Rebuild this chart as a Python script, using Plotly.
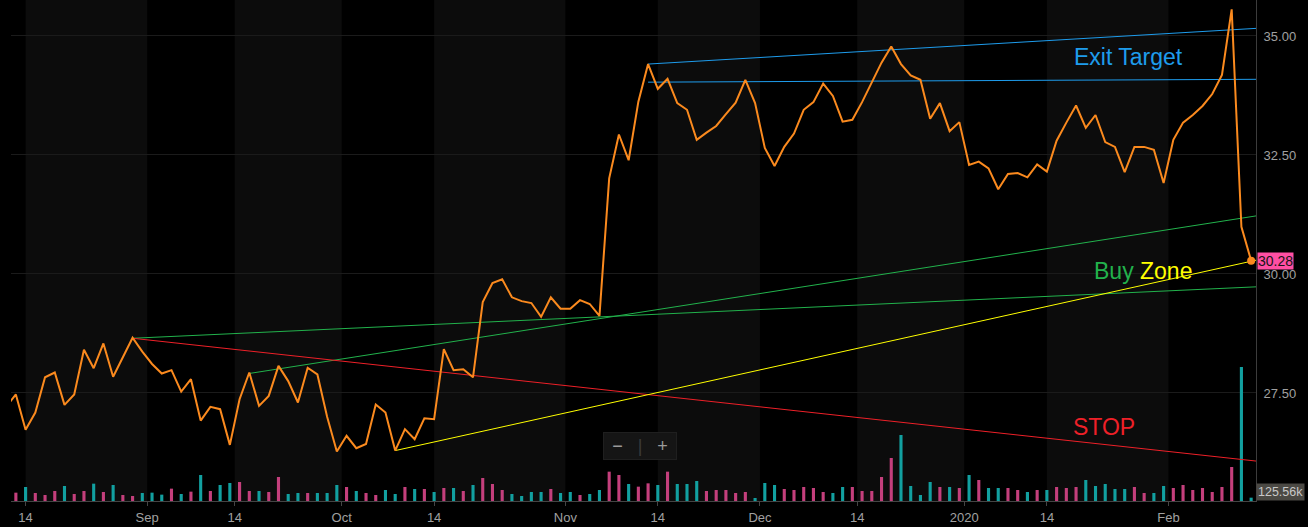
import numpy as np
import pandas as pd
import plotly.graph_objects as go

# trading days shown (Aug 12 2019 is clipped at the left edge)
holidays = ['2019-09-02', '2019-11-28', '2019-12-25', '2020-01-01', '2020-01-20']
days = pd.bdate_range('2019-08-12', '2020-02-13', freq='C', holidays=holidays)

close = [
    27.21,
    27.47, 26.73, 27.09, 27.83, 27.93, 27.25, 27.47, 28.41, 28.02, 28.54,
    27.84, 28.25, 28.66, 28.37, 28.11, 27.91, 27.98, 27.53, 27.79, 26.92,
    27.21, 27.16, 26.41, 27.37, 27.93, 27.23, 27.44, 28.07, 27.75, 27.30,
    28.03, 27.89, 27.00, 26.27, 26.60, 26.34, 26.43, 27.26, 27.09, 26.29,
    26.74, 26.53, 26.97, 26.95, 28.42, 27.98, 28.00, 27.83, 29.41, 29.81,
    29.89, 29.51, 29.43, 29.39, 29.10, 29.51, 29.27, 29.27, 29.45, 29.37,
    29.12, 32.01, 32.93, 32.39, 33.62, 34.41, 33.89, 34.10, 33.59, 33.45,
    32.82, 32.97, 33.11, 33.36, 33.60, 34.08, 33.59, 32.65, 32.27, 32.67,
    32.95, 33.45, 33.61, 34.00, 33.74, 33.20, 33.24, 33.61, 34.02, 34.44,
    34.78, 34.41, 34.17, 34.08, 33.26, 33.59, 33.00, 33.19, 32.29, 32.36,
    32.22, 31.78, 32.10, 32.12, 32.03, 32.30, 32.15, 32.80, 33.18, 33.54,
    33.07, 33.34, 32.77, 32.67, 32.14, 32.67, 32.67, 32.61, 31.91, 32.82,
    33.18, 33.34, 33.53, 33.78, 34.18, 35.56, 30.99, 30.28,
]

# volume in thousands of shares
vol_k = [
    340,
    314, 527, 301, 226, 377, 565, 264, 377, 653, 339,
    603, 226, 188, 301, 314, 239, 465, 264, 352, 979,
    377, 603, 678, 716, 377, 377, 339, 904, 264, 301,
    301, 301, 301, 603, 527, 377, 301, 226, 414, 264,
    527, 452, 452, 339, 490, 490, 377, 603, 866, 640,
    414, 264, 188, 339, 339, 452, 301, 339, 226, 264,
    414, 1105, 979, 640, 540, 665, 603, 1105, 640, 640,
    753, 377, 414, 414, 301, 339, 113, 678, 603, 452,
    414, 527, 490, 339, 301, 527, 527, 377, 377, 904,
    1620, 2486, 565, 226, 716, 527, 527, 490, 979, 791,
    490, 490, 490, 414, 339, 414, 414, 527, 490, 527,
    791, 565, 640, 452, 452, 527, 301, 301, 565, 490,
    603, 414, 490, 339, 527, 1281, 5048, 125.56,
]
# t = teal bar, p = pink bar
vol_side = list('t' + 'ptppptpptp' 'tpptttptpt' 'pttpptpptt' 'ptttptpptt'
                'ptptptptpp' 'pttttpttpt' 'tpptpptptt' 'tppppptttp'
                'ppppttpppp' 'pttttptptp' 'ttpptptppp' 'tttttppttp' 'pppppptt')

tick_dates = ['2019-08-14', '2019-09-01', '2019-09-14', '2019-10-01', '2019-10-14', '2019-11-01',
              '2019-11-14', '2019-12-01', '2019-12-14', '2020-01-01', '2020-01-14', '2020-02-01']
tick_labels = ['14', 'Sep', '14', 'Oct', '14', 'Nov', '14', 'Dec', '14', '2020', '14', 'Feb']

# drawn trend lines: start day, price there, price at the right edge
trend_names = ['exit_hi', 'exit_lo', 'buy_hi', 'buy_lo', 'stop', 'zone']
trend_from = ['2019-11-13', '2019-11-13', '2019-09-17', '2019-08-29', '2019-08-29', '2019-10-08']
trend_p0 = [34.41, 34.03, 27.91, 28.65, 28.65, 26.29]
trend_p1 = [35.16, 34.09, 31.22, 29.73, 26.07, 30.29]

BLUE, GREEN, RED, YELLOW = '#1e9cec', '#22b24c', '#ee2028', '#ffff00'
ORANGE = '#fb8a1e'
trend_color = {'exit_hi': BLUE, 'exit_lo': BLUE, 'buy_hi': GREEN, 'buy_lo': GREEN,
               'stop': RED, 'zone': YELLOW}
vol_color = {'t': '#12a0a0', 'p': '#c43f7c'}

x = np.arange(len(days))
right_edge = len(days) - 0.5

tickpos = []
for d, lab in zip(tick_dates, tick_labels):
    d = pd.Timestamp(d)
    i = int(days.searchsorted(d))
    on_bar = lab == '14' and i < len(days) and days[i] == d
    tickpos.append(i if on_bar else i - 0.5)

fig = go.Figure()

fig.add_trace(go.Bar(x=x, y=vol_k, marker_color=[vol_color[s] for s in vol_side],
                     marker_line_width=0, width=0.32, yaxis='y',
                     customdata=days.strftime('%b %d, %Y'),
                     hovertemplate='%{customdata}<br>Vol %{y}k<extra></extra>'))

for name, d0, p0, p1 in zip(trend_names, trend_from, trend_p0, trend_p1):
    i0 = int(days.searchsorted(pd.Timestamp(d0)))
    fig.add_trace(go.Scatter(x=[i0, right_edge], y=[p0, p1], mode='lines', yaxis='y2',
                             line=dict(color=trend_color[name], width=1), hoverinfo='skip'))

fig.add_trace(go.Scatter(x=x, y=close, mode='lines', yaxis='y2',
                         line=dict(color=ORANGE, width=2),
                         customdata=days.strftime('%b %d, %Y'),
                         hovertemplate='%{customdata}<br>%{y:.2f}<extra></extra>'))
fig.add_trace(go.Scatter(x=[x[-1]], y=[close[-1]], mode='markers', yaxis='y2',
                         marker=dict(color=ORANGE, size=8), hoverinfo='skip'))

# alternating shaded periods between date ticks
shapes = []
for k in range(0, len(tickpos) - 1, 2):
    shapes.append(dict(type='rect', xref='x', yref='paper', x0=tickpos[k], x1=tickpos[k + 1],
                       y0=0, y1=1, fillcolor='#0c0c0c', line_width=0, layer='below'))

annotations = [
    dict(x=115.4, y=34.56, xref='x', yref='y2', text='Exit Target', showarrow=False,
         font=dict(color=BLUE, size=23)),
    dict(x=116.9, y=30.06, xref='x', yref='y2', showarrow=False,
         text='Buy <span style="color:%s">Zone</span>' % YELLOW, font=dict(color=GREEN, size=23)),
    dict(x=112.9, y=26.79, xref='x', yref='y2', text='STOP', showarrow=False,
         font=dict(color=RED, size=23)),
    dict(x=1, y=close[-1], xref='paper', yref='y2', xanchor='left', xshift=1, showarrow=False,
         text='%.2f' % close[-1], bgcolor='#ff4fa3', borderpad=0,
         font=dict(color='#151515', size=14)),
    dict(x=1, y=0, xref='paper', yref='paper', xanchor='left', yanchor='bottom', showarrow=False,
         text='%.2fk' % vol_k[-1], bgcolor='#4b4944', borderpad=1,
         font=dict(color='#c8c8c8', size=12.5)),
    dict(x=0.5056, y=0.0828, xref='paper', yref='paper', showarrow=False, width=70, height=24,
         text='−   <span style="color:#3c3c3c">|</span>   +', bgcolor='#151515',
         bordercolor='#1f1f1f', borderwidth=1, font=dict(color='#9a9a9a', size=18)),
]

fig.update_layout(
    width=1308, height=527,
    margin=dict(l=11, r=52, t=0, b=26),
    paper_bgcolor='#000000', plot_bgcolor='#000000',
    showlegend=False,
    font=dict(family='Liberation Sans, Arial, sans-serif', color='#a0a0a0', size=13),
    shapes=shapes,
    annotations=annotations,
    xaxis=dict(range=[0.5, right_edge], tickmode='array', tickvals=tickpos, ticktext=tick_labels,
               showgrid=False, zeroline=False, showline=True, linecolor='#444444',
               ticks='outside', ticklen=4, tickcolor='#444444'),
    yaxis=dict(range=[0, 18870], visible=False, fixedrange=True),
    yaxis2=dict(overlaying='y', side='right', range=[25.231, 35.756],
                tickvals=[27.5, 30, 32.5, 35], ticktext=['27.50', '30.00', '32.50', '35.00'],
                showgrid=True, gridcolor='#1b1b1b', zeroline=False,
                showline=True, linecolor='#3c3c3c',
                ticks='outside', ticklen=4, tickcolor='rgba(0,0,0,0)'),
)

# page body has a default margin; drop it so the chart fills the window
fig.write_html('out.html', config={'displayModeBar': False},
               post_script="document.body.style.margin='0';")
